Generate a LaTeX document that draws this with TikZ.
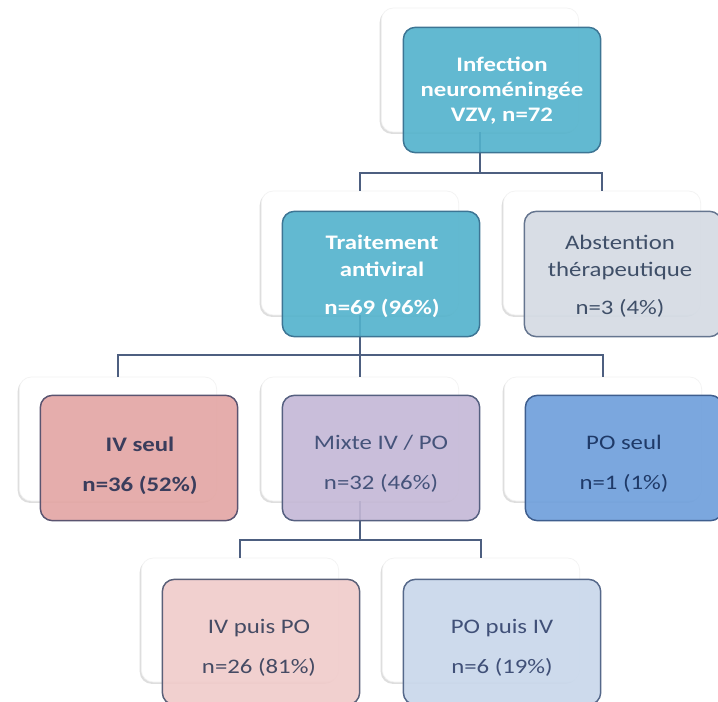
\documentclass[tikz,border=0pt]{standalone}
\usepackage{fontspec}
\setmainfont{Carlito}[FakeStretch=1.2]
\usetikzlibrary{shadows}
\definecolor{linkc}{HTML}{4D5F80}
\definecolor{tealf}{HTML}{52B2CC}
\definecolor{tealb}{HTML}{3D7594}
\definecolor{greyf}{HTML}{D4DAE3}
\definecolor{greyb}{HTML}{65758F}
\definecolor{greyt}{HTML}{3F4F68}
\definecolor{pinkf}{HTML}{E3A5A3}
\definecolor{pinkb}{HTML}{5A5470}
\definecolor{pinkt}{HTML}{3A3D5C}
\definecolor{lavf}{HTML}{C4B8D6}
\definecolor{lavb}{HTML}{556080}
\definecolor{lavt}{HTML}{45537A}
\definecolor{bluef}{HTML}{6D9EDB}
\definecolor{blueb}{HTML}{3E5E8E}
\definecolor{bluet}{HTML}{1F3A68}
\definecolor{lpinkf}{HTML}{F0CBCA}
\definecolor{lpinkb}{HTML}{5A6078}
\definecolor{lpinkt}{HTML}{454B64}
\definecolor{lbluef}{HTML}{C8D7EB}
\definecolor{lblueb}{HTML}{55688A}
\definecolor{lbluet}{HTML}{405078}
\begin{document}
\begin{tikzpicture}[x=0.75pt,y=-0.75pt,
  wbox/.style={rectangle, rounded corners=9pt, minimum width=148pt, minimum height=93pt,
    inner sep=0pt, fill=white, draw=black!5, line width=0.5pt,
    drop shadow={shadow xshift=-1.2pt, shadow yshift=-1.4pt, opacity=0.13, fill=black}},
  cbox/.style={rectangle, rounded corners=9pt, minimum width=148pt, minimum height=94pt,
    inner sep=0pt, line width=1.1pt, fill opacity=0.9},
  link/.style={draw=linkc, line width=1.1pt},
  txt/.style={align=center, inner sep=0pt, font=\fontsize{15.5}{30}\selectfont},
  txttop/.style={align=center, inner sep=0pt, font=\fontsize{15.5}{18.75}\selectfont\bfseries, text=white},
  txtmid/.style={align=center, inner sep=0pt, font=\fontsize{15.5}{20.25}\selectfont}
]
\useasboundingbox (0,0) rectangle (718,702);
\clip (0,0) rectangle (718,702);
\fill[white] (0,0) rectangle (718,702);

% white background boxes
\node[wbox] (topW) at (480,70) {};
\node[wbox] (trW) at (360,253) {};
\node[wbox] (abW) at (602,253) {};
\node[wbox] (ivW) at (118,439) {};
\node[wbox] (mxW) at (360,439) {};
\node[wbox] (poW) at (603,439) {};
\node[wbox] (ipW) at (240,620) {};
\node[wbox] (piW) at (481,620) {};

% connectors
\coordinate (b1) at (0,173);
\coordinate (b2) at (0,355);
\coordinate (b3) at (0,540);
\draw[link] (topW.south) |- (b1 -| trW.north) -- (trW.north);
\draw[link] (topW.south) |- (b1 -| abW.north) -- (abW.north);
\draw[link] (trW.south) |- (b2 -| ivW.north) -- (ivW.north);
\draw[link] (trW.south) -- (mxW.north);
\draw[link] (trW.south) |- (b2 -| poW.north) -- (poW.north);
\draw[link] (mxW.south) |- (b3 -| ipW.north) -- (ipW.north);
\draw[link] (mxW.south) |- (b3 -| piW.north) -- (piW.north);

% coloured boxes
\node[cbox, fill=tealf, draw=tealb] (topC) at (502,90) {};
\node[cbox, fill=tealf, draw=tealb] (trC) at (381,274) {};
\node[cbox, fill=greyf, draw=greyb] (abC) at (623,274) {};
\node[cbox, fill=pinkf, draw=pinkb] (ivC) at (139,458) {};
\node[cbox, fill=lavf, draw=lavb] (mxC) at (381,458) {};
\node[cbox, fill=bluef, draw=blueb] (poC) at (624,458) {};
\node[cbox, fill=lpinkf, draw=lpinkb] (ipC) at (261,642) {};
\node[cbox, fill=lbluef, draw=lblueb] (piC) at (502,642) {};

% texts
\node[txttop] (topT) at (502,91) {Infection\\neuroméningée\\VZV, n=72};
\node[txtmid, text=white, font=\fontsize{15.5}{20.25}\selectfont\bfseries] (trT) at (382,276) {Traitement\\antiviral\\[8pt]n=69 (96\%)};
\node[txtmid, text=greyt] (abT) at (620,276) {Abstention\\thérapeutique\\[8pt]n=3 (4\%)};
\node[txt, text=pinkt, font=\fontsize{15.5}{30}\selectfont\bfseries] (ivT) at (140,466) {IV seul\\n=36 (52\%)};
\node[txt, text=lavt] (mxT) at (381,464) {Mixte IV / PO\\n=32 (46\%)};
\node[txt, text=bluet] (poT) at (624,464) {PO seul\\n=1 (1\%)};
\node[txt, text=lpinkt] (ipT) at (259,648) {IV puis PO\\n=26 (81\%)};
\node[txt, text=lbluet] (piT) at (502,648) {PO puis IV\\n=6 (19\%)};
\end{tikzpicture}
\end{document}
